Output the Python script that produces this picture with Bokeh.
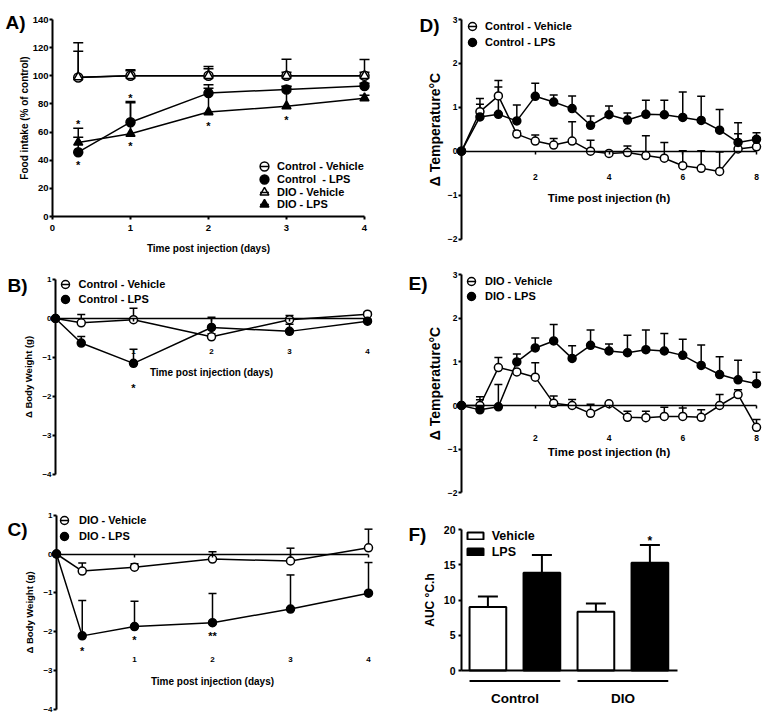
from bokeh.plotting import figure
from bokeh.layouts import row, column
from bokeh.models import Range1d, Legend, LegendItem, Label, FixedTicker
from bokeh.embed import file_html
from bokeh.resources import INLINE
from bokeh.core.properties import value

FONT = "Liberation Sans"

# ---------------- data ----------------
# A) food intake (% of control)
days_A = [0.33, 1, 2, 3, 4]
A_ctrl_veh = [98.8, 100, 100, 100, 100]
A_ctrl_veh_sem = [18.7, 4.3, 6.6, 11.8, 11.6]
A_dio_veh = [99.0, 100, 100, 100, 100]
A_dio_veh_sem = [24.5, 3.5, 5.0, 2.5, 2.5]
A_ctrl_lps = [45.7, 67.0, 87.7, 90.3, 92.7]
A_ctrl_lps_sem = [10.7, 14.8, 5.9, 2.3, 2.0]
A_dio_lps = [52.6, 58.8, 74.2, 78.4, 84.1]
A_dio_lps_sem = [10.2, 22.0, 17.0, 14.0, 2.0]
A_star_x = [0.33, 0.33, 1, 1, 2, 3]
A_star_y = [67.5, 38.0, 85.5, 51.6, 65.9, 70.0]
A_star_t = ["*", "*", "*", "*", "*", "*"]

# B) body weight, control mice
days_BC = [0, 0.33, 1, 2, 3, 4]
B_veh = [0, -0.11, -0.03, -0.47, -0.03, 0.11]
B_veh_sem = [0, 0.21, 0.29, 0.08, 0.11, 0.05]
B_lps = [0, -0.63, -1.15, -0.23, -0.33, -0.07]
B_lps_sem = [0, 0.17, 0.36, 0.26, 0.18, 0.05]
B_star_x = [1]
B_star_y = [-1.74]
B_star_t = ["*"]

# C) body weight, DIO mice
C_veh = [0, -0.44, -0.34, -0.13, -0.18, 0.16]
C_veh_sem = [0, 0.21, 0.09, 0.19, 0.33, 0.48]
C_lps = [0, -2.11, -1.87, -1.77, -1.42, -1.01]
C_lps_sem = [0, 0.91, 0.65, 0.75, 0.88, 0.79]
C_star_x = [0.33, 1, 2]
C_star_y = [-2.46, -2.17, -2.05]
C_star_t = ["*", "*", "**"]

# D) temperature, control mice
hours = [0, 0.5, 1, 1.5, 2, 2.5, 3, 3.5, 4, 4.5, 5, 5.5, 6, 6.5, 7, 7.5, 8]
D_veh = [0, 0.90, 1.26, 0.39, 0.23, 0.14, 0.23, 0.0, -0.05, -0.03, -0.10, -0.16, -0.33, -0.39, -0.46, 0.05, 0.10]
D_veh_sem = [0, 0.17, 0.35, 0.07, 0.14, 0.15, 0.44, 0.25, 0.03, 0.15, 0.45, 0.36, 0.34, 0.40, 0.44, 0.35, 0.21]
D_lps = [0, 0.78, 0.84, 0.69, 1.25, 1.12, 0.97, 0.59, 0.83, 0.71, 0.84, 0.83, 0.77, 0.70, 0.48, 0.20, 0.27]
D_lps_sem = [0, 0.42, 0.62, 0.36, 0.30, 0.16, 0.29, 0.21, 0.20, 0.16, 0.32, 0.33, 0.58, 0.55, 0.47, 0.45, 0.15]

# E) temperature, DIO mice
E_veh = [0, 0.0, 0.87, 0.77, 0.65, 0.05, 0.0, -0.18, 0.04, -0.27, -0.28, -0.25, -0.25, -0.27, 0.0, 0.25, -0.50]
E_veh_sem = [0, 0.20, 0.23, 0.05, 0.33, 0.17, 0.14, 0.21, 0.03, 0.14, 0.15, 0.21, 0.19, 0.17, 0.25, 0.11, 0.18]
E_lps = [0, -0.10, -0.03, 1.00, 1.32, 1.48, 1.08, 1.38, 1.25, 1.21, 1.28, 1.25, 1.15, 0.92, 0.71, 0.59, 0.50]
E_lps_sem = [0, 0.23, 0.51, 0.18, 0.23, 0.38, 0.29, 0.35, 0.16, 0.40, 0.45, 0.40, 0.37, 0.47, 0.41, 0.45, 0.26]

# F) AUC
F_groups = ["Control", "DIO"]
F_treat = ["Vehicle", "LPS", "Vehicle", "LPS"]
F_x = [1, 2, 3, 4]
F_auc = [9.0, 13.85, 8.35, 15.3]
F_sem = [1.5, 2.55, 1.15, 2.5]
F_star_x = [4]
F_star_y = [18.7]
F_star_t = ["*"]

NAN = float("nan")


# ---------------- helpers ----------------
def make(left, top, W, H, xv0, xpx0, sx, yv0, ypx0, sy):
    """Figure whose frame covers the whole figure; ranges chosen so that value
    xv0 lands at page pixel xpx0 (sx px per unit), likewise for y."""
    x0 = xv0 + (left - xpx0) / sx
    y1 = yv0 + (ypx0 - top) / sy
    p = figure(width=W, height=H, x_range=Range1d(x0, x0 + W / sx),
               y_range=Range1d(y1 - H / sy, y1),
               output_backend="svg", toolbar_location=None,
               min_border_left=0, min_border_top=0, min_border_right=0, min_border_bottom=0)
    p.title.visible = False
    p.grid.visible = False
    p.outline_line_color = None
    p.background_fill_color = "white"
    p.border_fill_color = "white"
    return p, left, top + H


def style_axis(ax, ticks, tick_size, label, label_size, standoff, label_standoff, lw, loc, bounds):
    ax.fixed_location = loc
    ax.bounds = bounds
    ax.ticker = FixedTicker(ticks=ticks)
    ax.minor_tick_line_color = None
    ax.major_tick_in = 0
    ax.major_tick_out = 3
    ax.axis_line_width = lw
    ax.major_tick_line_width = lw
    ax.axis_line_color = "black"
    ax.major_tick_line_color = "black"
    ax.major_label_text_font = FONT
    ax.major_label_text_font_style = "bold"
    ax.major_label_text_font_size = tick_size
    ax.major_label_text_color = "black"
    ax.major_label_standoff = standoff
    ax.axis_label = label
    ax.axis_label_text_font = FONT
    ax.axis_label_text_font_style = "bold"
    ax.axis_label_text_font_size = label_size
    ax.axis_label_text_color = "black"
    ax.axis_label_standoff = label_standoff


def draw_series(p, specs, cap, size):
    for x, y, s, m, f in specs:
        top = [a + b for a, b in zip(y, s)]
        p.segment(x, y, x, top, line_color="black", line_width=1.5)
        p.scatter(x, top, marker="dash", size=cap, line_color="black", line_width=1.5)
    for x, y, s, m, f in specs:
        p.line(x, y, line_color="black", line_width=1.5)
    rs = []
    for x, y, s, m, f in specs:
        rs.append(p.scatter(x, y, marker=m, size=size, fill_color=f,
                            line_color="black", line_width=1.5))
    return rs


def legend_row(p, fig_left, label, renderers, box_left, vy, gw, gh, lh,
               standoff, font_size, baseline="middle"):
    lg = Legend(items=[LegendItem(label=label, renderers=renderers)],
                location=(box_left - fig_left, vy), glyph_width=gw, glyph_height=gh,
                label_height=lh, spacing=0, padding=0, margin=0,
                label_standoff=standoff, background_fill_alpha=0, border_line_color=None,
                label_text_font=FONT, label_text_font_style="bold",
                label_text_font_size=font_size, label_text_color="black",
                label_text_baseline=baseline)
    p.add_layout(lg)


def add_legend(p, fl, fb, labels, rs, box_left, rows, g, standoff, font_size="11px"):
    # legend-only proxy: a dash drawn across the marker, as in the original key
    dash = p.scatter([NAN], [NAN], marker="dash", size=8, line_color="black", line_width=1.5)
    for lab, r, c in zip(labels, rs, rows):
        legend_row(p, fl, lab, [r, dash], box_left, fb - (c + g / 2), g, g, g,
                   standoff, font_size)


def stars(p, xs, ys, ts, size="11px"):
    p.text(x=xs, y=ys, text=ts, text_font=value(FONT), text_font_style="bold",
           text_font_size=size, text_align="center", text_baseline="middle",
           y_offset=2, text_color="black")


def panel_label(p, text, fl, fb, x_ref, base_ref):
    p.add_layout(Label(x=x_ref - fl, y=fb - base_ref, x_units="screen", y_units="screen",
                       text=text, text_font=FONT, text_font_style="bold",
                       text_font_size="19px", text_baseline="alphabetic", text_color="black"))


# ---------------- A ----------------
pA, flA, fbA = make(0, 0, 403, 263, 0, 52, 78, 0, 216, 197 / 140)
style_axis(pA.xaxis[0], [0, 1, 2, 3, 4], "9.5px", "Time post injection (days)", "10px",
           5, 9, 2, 0, (0, 4))
style_axis(pA.yaxis[0], [0, 20, 40, 60, 80, 100, 120, 140], "9.5px",
           "Food intake (% of control)", "10px", 1, 0, 2, 0, (0, 140))
rA = draw_series(pA, [
    (days_A, A_ctrl_veh, A_ctrl_veh_sem, "circle", "white"),
    (days_A, A_dio_veh, A_dio_veh_sem, "triangle", "white"),
    (days_A, A_ctrl_lps, A_ctrl_lps_sem, "circle", "black"),
    (days_A, A_dio_lps, A_dio_lps_sem, "triangle", "black"),
], cap=10, size=9)
stars(pA, A_star_x, A_star_y, A_star_t)
add_legend(pA, flA, fbA, ["Control - Vehicle", "Control  - LPS", "DIO - Vehicle", "DIO - LPS"],
           [rA[0], rA[2], rA[1], rA[3]], 253, [166.3, 179, 191.7, 204.3], 22, 2)
panel_label(pA, "A)", flA, fbA, 5, 22)

# ---------------- B ----------------
pB, flB, fbB = make(0, 263, 403, 227, 0, 55, 78, 0, 318, 39)
style_axis(pB.xaxis[0], [1, 2, 3, 4], "8px", "Time post injection (days)", "10px",
           27, 10, 1.5, 0, (0, 4))
style_axis(pB.yaxis[0], [-4, -3, -2, -1, 0, 1], "8px", "Δ Body Weight (g)", "9.5px",
           1, 5, 2, 0, (-4, 1))
rB = draw_series(pB, [
    (days_BC, B_veh, B_veh_sem, "circle", "white"),
    (days_BC, B_lps, B_lps_sem, "circle", "black"),
], cap=8, size=8)
stars(pB, B_star_x, B_star_y, B_star_t)
add_legend(pB, flB, fbB, ["Control - Vehicle", "Control - LPS"], rB, 54.5, [284, 299], 20, 4)
panel_label(pB, "B)", flB, fbB, 7, 285)

# ---------------- C ----------------
pC, flC, fbC = make(0, 490, 403, 226, 0, 56, 78, 0, 553.5, 38.8)
style_axis(pC.xaxis[0], [1, 2, 3, 4], "8px", "Time post injection (days)", "10px",
           100, 10, 1.5, 0, (0, 4))
style_axis(pC.yaxis[0], [-4, -3, -2, -1, 0, 1], "8px", "Δ Body Weight (g)", "9.5px",
           1, 5, 2, 0, (-4, 1))
rC = draw_series(pC, [
    (days_BC, C_veh, C_veh_sem, "circle", "white"),
    (days_BC, C_lps, C_lps_sem, "circle", "black"),
], cap=8, size=8)
stars(pC, C_star_x, C_star_y, C_star_t)
add_legend(pC, flC, fbC, ["DIO - Vehicle", "DIO - LPS"], rC, 54, [520, 535.7], 20, 5)
panel_label(pC, "C)", flC, fbC, 7, 529)

# ---------------- D ----------------
pD, flD, fbD = make(403, 0, 365, 258, 0, 461, 36.875, 0, 150.7, 43.9)
style_axis(pD.xaxis[0], [2, 4, 6, 8], "8.5px", "Time post injection (h)", "11.5px",
           20, 8, 1.5, 0, (0, 8))
style_axis(pD.yaxis[0], [-2, -1, 0, 1, 2, 3], "8.5px", "Δ Temperature°C", "14px",
           1, 2, 2, 0, (-2, 3))
rD = draw_series(pD, [
    (hours, D_veh, D_veh_sem, "circle", "white"),
    (hours, D_lps, D_lps_sem, "circle", "black"),
], cap=8, size=8)
add_legend(pD, flD, fbD, ["Control - Vehicle", "Control - LPS"], rD, 462, [26, 41.7], 20, 3)
panel_label(pD, "D)", flD, fbD, 419, 24.5)

# ---------------- E ----------------
pE, flE, fbE = make(403, 258, 365, 250, 0, 461, 36.875, 0, 405, 43.6)
style_axis(pE.xaxis[0], [2, 4, 6, 8], "8.5px", "Time post injection (h)", "11.5px",
           26, 2, 1.5, 0, (0, 8))
style_axis(pE.yaxis[0], [-2, -1, 0, 1, 2, 3], "8.5px", "Δ Temperature°C", "14px",
           1, 2, 2, 0, (-2, 3))
rE = draw_series(pE, [
    (hours, E_veh, E_veh_sem, "circle", "white"),
    (hours, E_lps, E_lps_sem, "circle", "black"),
], cap=8, size=8)
add_legend(pE, flE, fbE, ["DIO - Vehicle", "DIO - LPS"], rE, 461, [280.7, 296], 20, 4)
panel_label(pE, "E)", flE, fbE, 408, 283)

# ---------------- F ----------------
pF, flF, fbF = make(403, 508, 365, 208, 1, 487.4, 54, 0, 670, 7.05)
F_left = 1 + (461 - 487.4) / 54
F_right = 1 + (676.7 - 487.4) / 54
style_axis(pF.yaxis[0], [0, 5, 10, 15, 20], "10.5px", "AUC °C.h", "12px", 3, 4, 2,
           F_left, (0, 20))
centers = [(F_x[0] + F_x[1]) / 2, (F_x[2] + F_x[3]) / 2]
style_axis(pF.xaxis[0], centers, "13.5px", "", "12px", 20, 0, 2, 0, (F_left, F_right))
pF.xaxis[0].major_tick_line_color = None
pF.xaxis[0].major_tick_out = 0
pF.xaxis[0].major_label_overrides = {centers[0]: F_groups[0], centers[1]: F_groups[1]}
bw = 0.68
F_top = [a + b for a, b in zip(F_auc, F_sem)]
pF.segment(F_x, F_auc, F_x, F_top, line_color="black", line_width=2)
pF.scatter(F_x, F_top, marker="dash", size=20, line_color="black", line_width=2)
veh_idx = [i for i, t in enumerate(F_treat) if t == "Vehicle"]
lps_idx = [i for i, t in enumerate(F_treat) if t == "LPS"]
rv = pF.vbar(x=[F_x[i] for i in veh_idx], top=[F_auc[i] for i in veh_idx], width=bw, bottom=0,
             fill_color="white", line_color="black", line_width=2)
rl = pF.vbar(x=[F_x[i] for i in lps_idx], top=[F_auc[i] for i in lps_idx], width=bw, bottom=0,
             fill_color="black", line_color="black", line_width=2)
g0 = [F_x[0] - bw / 2, F_x[2] - bw / 2]
g1 = [F_x[1] + bw / 2, F_x[3] + bw / 2]
pF.segment(g0, [-1.5, -1.5], g1, [-1.5, -1.5], line_color="black", line_width=2)
stars(pF, F_star_x, F_star_y, F_star_t, "12px")
for lab, r, c in zip(["Vehicle", "LPS"], [rv, rl], [531, 547]):
    legend_row(pF, flF, lab, [r], 464.7, fbF - (c + 13.5), 20, 9, 18, 7, "12.5px",
               baseline="alphabetic")
panel_label(pF, "F)", flF, fbF, 408, 534)

layout = row(column(pA, pB, pC), column(pD, pE, pF))
open("out.html", "w").write(file_html(layout, INLINE))
